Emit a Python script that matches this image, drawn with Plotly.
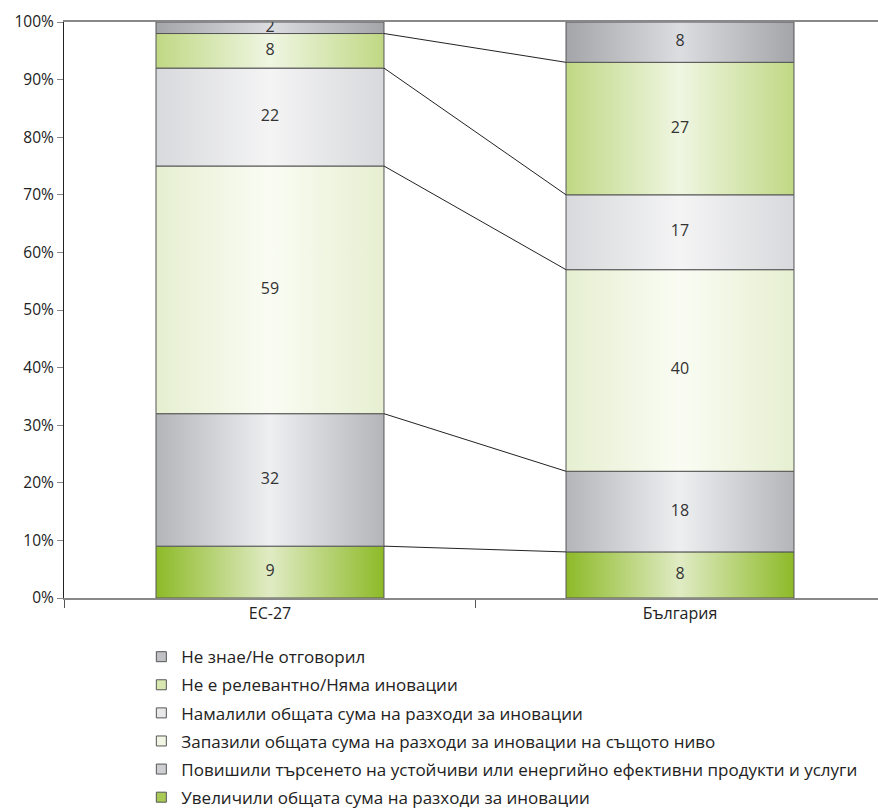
import plotly.graph_objects as go

# ---- data ----
categories = ["ЕС-27", "България"]

# series, bottom of the stack first
series_names = [
    "Увеличили общата сума на разходи за иновации",
    "Повишили търсенето на устойчиви или енергийно ефективни продукти и услуги",
    "Запазили общата сума на разходи за иновации на същото ниво",
    "Намалили общата сума на разходи за иновации",
    "Не е релевантно/Няма иновации",
    "Не знае/Не отговорил",
]

# labels printed on the segments
eu_labels = [9, 32, 59, 22, 8, 2]
bg_labels = [8, 18, 40, 17, 27, 8]

# drawn segment heights (share of the 100% bar)
eu_share = [9, 23, 43, 17, 6, 2]
bg_share = [8, 14, 35, 13, 23, 7]

y_ticks = [0, 10, 20, 30, 40, 50, 60, 70, 80, 90, 100]

# ---- styles ----
edge_colors = ["#8dba28", "#b3b5b8", "#e6efd1", "#d8d9dc", "#c0d884", "#a3a5a8"]
center_colors = ["#e0ebc4", "#eeeff1", "#fafcf3", "#f4f4f5", "#eff6e2", "#dcdde0"]
legend_colors = ["#a9cb55", "#cdcfd2", "#f1f6e4", "#e8e8ea", "#d8e8b0", "#bfc1c4"]
BAR_W = 0.556
FONT = "Open Sans, sans-serif"

fig = go.Figure()

shares = [eu_share, bg_share]
labels = [eu_labels, bg_labels]

for ci in range(len(categories)):
    base = 0
    x0, x1 = ci - BAR_W / 2, ci + BAR_W / 2
    mids = []
    for si in range(len(series_names)):
        top = base + shares[ci][si]
        fig.add_trace(go.Scatter(
            x=[x0, x1, x1, x0, x0], y=[base, base, top, top, base],
            mode="lines", fill="toself",
            fillgradient=dict(type="horizontal",
                              colorscale=[[0, edge_colors[si]], [0.5, center_colors[si]], [1, edge_colors[si]]]),
            line=dict(color="#555555", width=1),
            showlegend=False, hoverinfo="skip",
        ))
        mids.append((base + top) / 2)
        base = top
    fig.add_trace(go.Scatter(
        x=[ci] * len(mids), y=mids, mode="text",
        text=[str(v) for v in labels[ci]],
        textfont=dict(size=16, color="#333333", family=FONT),
        showlegend=False, hoverinfo="skip",
    ))

# connector lines between stack boundaries
cx, cy = [], []
b0, b1 = 0, 0
for si in range(len(series_names) - 1):
    b0 += eu_share[si]
    b1 += bg_share[si]
    cx += [0 + BAR_W / 2, 1 - BAR_W / 2, None]
    cy += [b0, b1, None]
fig.add_trace(go.Scatter(x=cx, y=cy, mode="lines", line=dict(color="#222222", width=1),
                         showlegend=False, hoverinfo="skip"))

# legend entries, top of stack first
for si in reversed(range(len(series_names))):
    fig.add_trace(go.Scatter(
        x=[None], y=[None], mode="markers", name=series_names[si],
        legendgroup=series_names[si],
        marker=dict(symbol="square", size=10, color=legend_colors[si],
                    line=dict(color="#555555", width=1)),
    ))

fig.update_layout(
    width=878, height=808,
    margin=dict(l=64, r=0, t=22, b=210),
    plot_bgcolor="white", paper_bgcolor="white",
    font=dict(family=FONT, size=15, color="#222222"),
    showlegend=True,
    legend=dict(x=0.095, y=0.209, xref="paper", yref="container",
                xanchor="left", yanchor="top",
                orientation="v", tracegroupgap=3,
                font=dict(size=17, color="#222222"), bgcolor="rgba(0,0,0,0)"),
    xaxis=dict(
        range=[-0.5024, 1.4829], tickvals=[0, 1], ticktext=categories,
        ticks="", showgrid=False, zeroline=False,
        showline=True, linecolor="#888888", linewidth=1.5, mirror=True,
        minor=dict(tickvals=[-0.5, 0.5, 1.5], ticks="outside", ticklen=8,
                   tickcolor="#555555", showgrid=False),
        tickfont=dict(size=16),
    ),
    yaxis=dict(
        range=[0, 100], tickvals=y_ticks, ticktext=[f"{v}%" for v in y_ticks],
        ticks="outside", ticklen=6, tickcolor="#888888",
        showgrid=False, zeroline=False,
        showline=True, linecolor="#222222", linewidth=1,
        tickfont=dict(size=15.5),
    ),
)

fig.write_html("out.html")
